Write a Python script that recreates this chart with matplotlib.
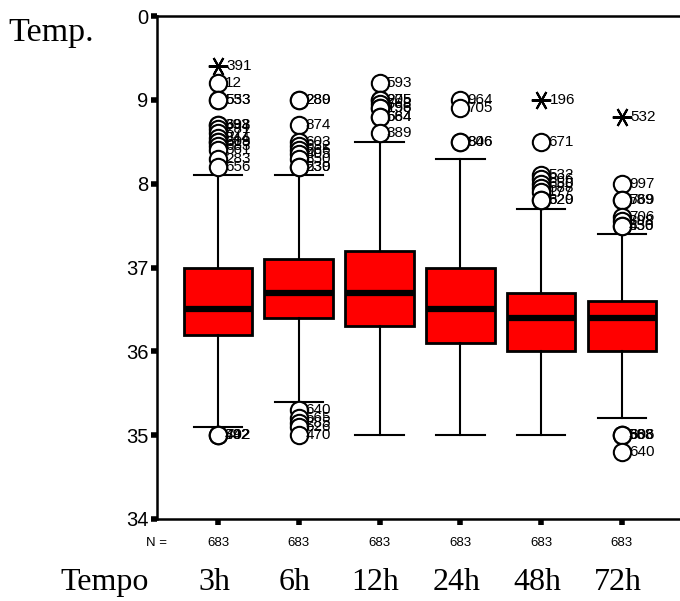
import matplotlib
matplotlib.use("Agg")
import matplotlib.pyplot as plt
import matplotlib.transforms as mtransforms

# grupos (tempo) e contagens
groups = ['3h', '6h', '12h', '24h', '48h', '72h']
n_vals = [683, 683, 683, 683, 683, 683]

# estatisticas das caixas
q1 = [36.2, 36.4, 36.3, 36.1, 36.0, 36.0]
med = [36.5, 36.7, 36.7, 36.5, 36.4, 36.4]
q3 = [37.0, 37.1, 37.2, 37.0, 36.7, 36.6]
whis_lo = [35.1, 35.4, 35.0, 35.0, 35.0, 35.2]
whis_hi = [38.1, 38.1, 38.5, 38.3, 37.7, 37.4]

# outliers (circulos) e seus numeros de caso
out_vals = [
    [39.2, 39.0, 39.0, 38.7, 38.7, 38.65, 38.6, 38.55, 38.5, 38.5, 38.45, 38.4, 38.3, 38.2, 35.0, 35.0, 35.0],
    [39.0, 39.0, 38.7, 38.5, 38.45, 38.4, 38.35, 38.3, 38.2, 38.2, 35.3, 35.2, 35.15, 35.1, 35.0],
    [39.2, 39.0, 39.0, 38.95, 38.9, 38.9, 38.8, 38.8, 38.6],
    [39.0, 38.9, 38.5, 38.5],
    [38.5, 38.1, 38.05, 38.0, 37.95, 37.9, 37.8, 37.8],
    [38.0, 37.8, 37.8, 37.6, 37.55, 37.5, 37.5, 35.0, 35.0, 35.0, 34.8],
]
out_ids = [
    ['12', '553', '533', '393', '698', '281', '577', '344', '609', '618', '683', '561', '283', '656', '702', '392', '442'],
    ['289', '280', '874', '603', '632', '565', '405', '850', '539', '230', '640', '565', '285', '626', '470'],
    ['593', '275', '205', '768', '256', '198', '584', '664', '389'],
    ['964', '705', '806', '846'],
    ['671', '532', '866', '650', '588', '177', '820', '629'],
    ['997', '589', '769', '706', '398', '456', '530', '388', '563', '606', '640'],
]

# extremos (asteriscos)
ext_vals = [[39.4], [], [], [], [39.0], [38.8]]
ext_ids = [['391'], [], [], [], ['196'], ['532']]

ytick_vals = [34, 35, 36, 37, 38, 39, 40]
ytick_labels = ['34', '35', '36', '37', '8', '9', '0']

sans = ['Liberation Sans', 'DejaVu Sans']
serif = ['Liberation Serif', 'DejaVu Serif']

fig = plt.figure(figsize=(6.8, 6.01), dpi=100)
ax = fig.add_axes([157 / 680, 82 / 601, 523 / 680, 503 / 601])

positions = list(range(1, len(groups) + 1))
stats = []
for i in range(len(groups)):
    stats.append(dict(med=med[i], q1=q1[i], q3=q3[i],
                      whislo=whis_lo[i], whishi=whis_hi[i], fliers=[]))

ax.bxp(stats, positions=positions, widths=0.85, capwidths=0.6,
       patch_artist=True, showfliers=False,
       boxprops=dict(facecolor='#ff0000', edgecolor='black', linewidth=2),
       medianprops=dict(color='black', linewidth=4.5, solid_capstyle='butt'),
       whiskerprops=dict(color='black', linewidth=1.5),
       capprops=dict(color='black', linewidth=1.5))

for i, p in enumerate(positions):
    if out_vals[i]:
        ax.plot([p] * len(out_vals[i]), out_vals[i], 'o', ms=12.5,
                mfc='white', mec='black', mew=1.5, zorder=3)
        for v, lab in zip(out_vals[i], out_ids[i]):
            ax.annotate(lab, (p, v), xytext=(5, 0), textcoords='offset points',
                        ha='left', va='center', fontsize=11, family=sans, zorder=4)
    if ext_vals[i]:
        ax.plot([p] * len(ext_vals[i]), ext_vals[i], ls='none',
                marker=(6, 2, 90), ms=14, mec='black', mew=1.5, zorder=3)
        for v, lab in zip(ext_vals[i], ext_ids[i]):
            ax.annotate(lab, (p, v), xytext=(6, 0), textcoords='offset points',
                        ha='left', va='center', fontsize=11, family=sans, zorder=4)

ax.set_xlim(0.245, 6.72)
ax.set_ylim(34, 40)

ax.set_yticks(ytick_vals)
ax.set_yticklabels(ytick_labels, family=sans, fontsize=14.5)
ax.set_xticks(positions)
ax.set_xticklabels([str(n) for n in n_vals], family=sans, fontsize=9.5)

ax.tick_params(axis='y', direction='out', length=4, width=4, pad=2)
ax.tick_params(axis='x', direction='out', length=4, width=4, pad=9)

for s in ['left', 'bottom', 'top']:
    ax.spines[s].set_linewidth(1.8)
ax.spines['right'].set_visible(False)

# "N =" abaixo do eixo, alinhado com os 683
ax.text(0.0, -0.047, 'N =', transform=ax.transAxes, ha='center', va='center',
        fontsize=9.5, family=sans)

# rotulos dos grupos em serifa
trans = mtransforms.blended_transform_factory(ax.transData, fig.transFigure)
for p, g in zip(positions, groups):
    ax.text(p - 0.05, 0.03, g, transform=trans, ha='center', va='center',
            fontsize=23, family=serif)
fig.text(105 / 680, 0.03, 'Tempo', ha='center', va='center', fontsize=23, family=serif)
fig.text(8 / 680, 1 - 33 / 601, 'Temp.', ha='left', va='center', fontsize=24.5, family=serif)

fig.savefig('out.png', dpi=100)
